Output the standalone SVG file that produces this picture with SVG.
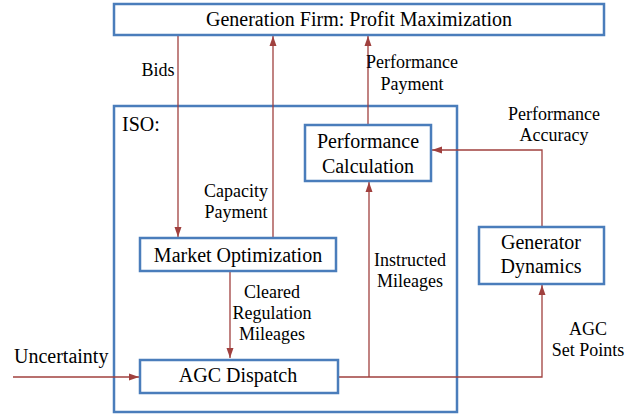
<svg xmlns="http://www.w3.org/2000/svg" width="644" height="416" viewBox="0 0 644 416" font-family="'Liberation Serif', 'Times New Roman', 'DejaVu Serif', serif">
<style>
.box{fill:#fff;stroke:#4a7dbb;stroke-width:2.5}
text{font-family:'Liberation Serif','Times New Roman','DejaVu Serif',serif;fill:#000;text-anchor:middle}
.t{font-size:20px}
.l{font-size:18px}
.c{fill:none;stroke:#a0403e;stroke-width:1.3}
</style>
<defs>
<marker id="ah" markerUnits="userSpaceOnUse" markerWidth="10" markerHeight="10" viewBox="0 0 10 10" refX="10" refY="5" orient="auto">
<path d="M0,1.5 L10,5 L0,8.5 Z" fill="#a0403e"/>
</marker>
</defs>
<rect width="644" height="416" fill="#fff"/>
<g id="iso">
<rect class="box" x="114" y="106" width="343" height="306"/>
<text x="122" y="131" class="t" style="text-anchor:start">ISO:</text>
</g>
<g id="connectors">
<path class="c" d="M178,35 V237" marker-end="url(#ah)"/>
<path class="c" d="M273,238 V36" marker-end="url(#ah)"/>
<path class="c" d="M368,124 V36" marker-end="url(#ah)"/>
<path class="c" d="M542,226 V150 H432" marker-end="url(#ah)"/>
<path class="c" d="M369,377 V182" marker-end="url(#ah)"/>
<path class="c" d="M230,271 V358" marker-end="url(#ah)"/>
<path class="c" d="M338,377 H542 V285" marker-end="url(#ah)"/>
<path class="c" d="M13,377 H139" marker-end="url(#ah)"/>
<text x="158" y="76" class="l">Bids</text>
<text x="412" y="68" class="l">Performance</text>
<text x="412" y="90" class="l">Payment</text>
<text x="236" y="197" class="l">Capacity</text>
<text x="236" y="218" class="l">Payment</text>
<text x="410" y="266" class="l">Instructed</text>
<text x="410" y="287" class="l">Mileages</text>
<text x="554" y="120" class="l">Performance</text>
<text x="554" y="141" class="l">Accuracy</text>
<text x="272" y="298" class="l">Cleared</text>
<text x="272" y="319" class="l">Regulation</text>
<text x="272" y="340" class="l">Mileages</text>
<text x="588" y="335" class="l">AGC</text>
<text x="588" y="356" class="l">Set Points</text>
<text x="14" y="363" class="t" style="text-anchor:start">Uncertainty</text>
</g>
<g id="genfirm">
<rect class="box" x="114" y="4" width="490" height="31"/>
<text x="359" y="26" class="t">Generation Firm: Profit Maximization</text>
</g>
<g id="perfcalc">
<rect class="box" x="305" y="125" width="126" height="56"/>
<text x="368" y="148" class="t">Performance</text>
<text x="368" y="173" class="t">Calculation</text>
</g>
<g id="marketopt">
<rect class="box" x="140" y="238" width="196" height="33"/>
<text x="238" y="262" class="t">Market Optimization</text>
</g>
<g id="gendyn">
<rect class="box" x="479" y="227" width="125" height="57"/>
<text x="541" y="249" class="t">Generator</text>
<text x="541" y="273" class="t">Dynamics</text>
</g>
<g id="agcdispatch">
<rect class="box" x="140" y="360" width="198" height="33"/>
<text x="238" y="382" class="t">AGC Dispatch</text>
</g>
</svg>
